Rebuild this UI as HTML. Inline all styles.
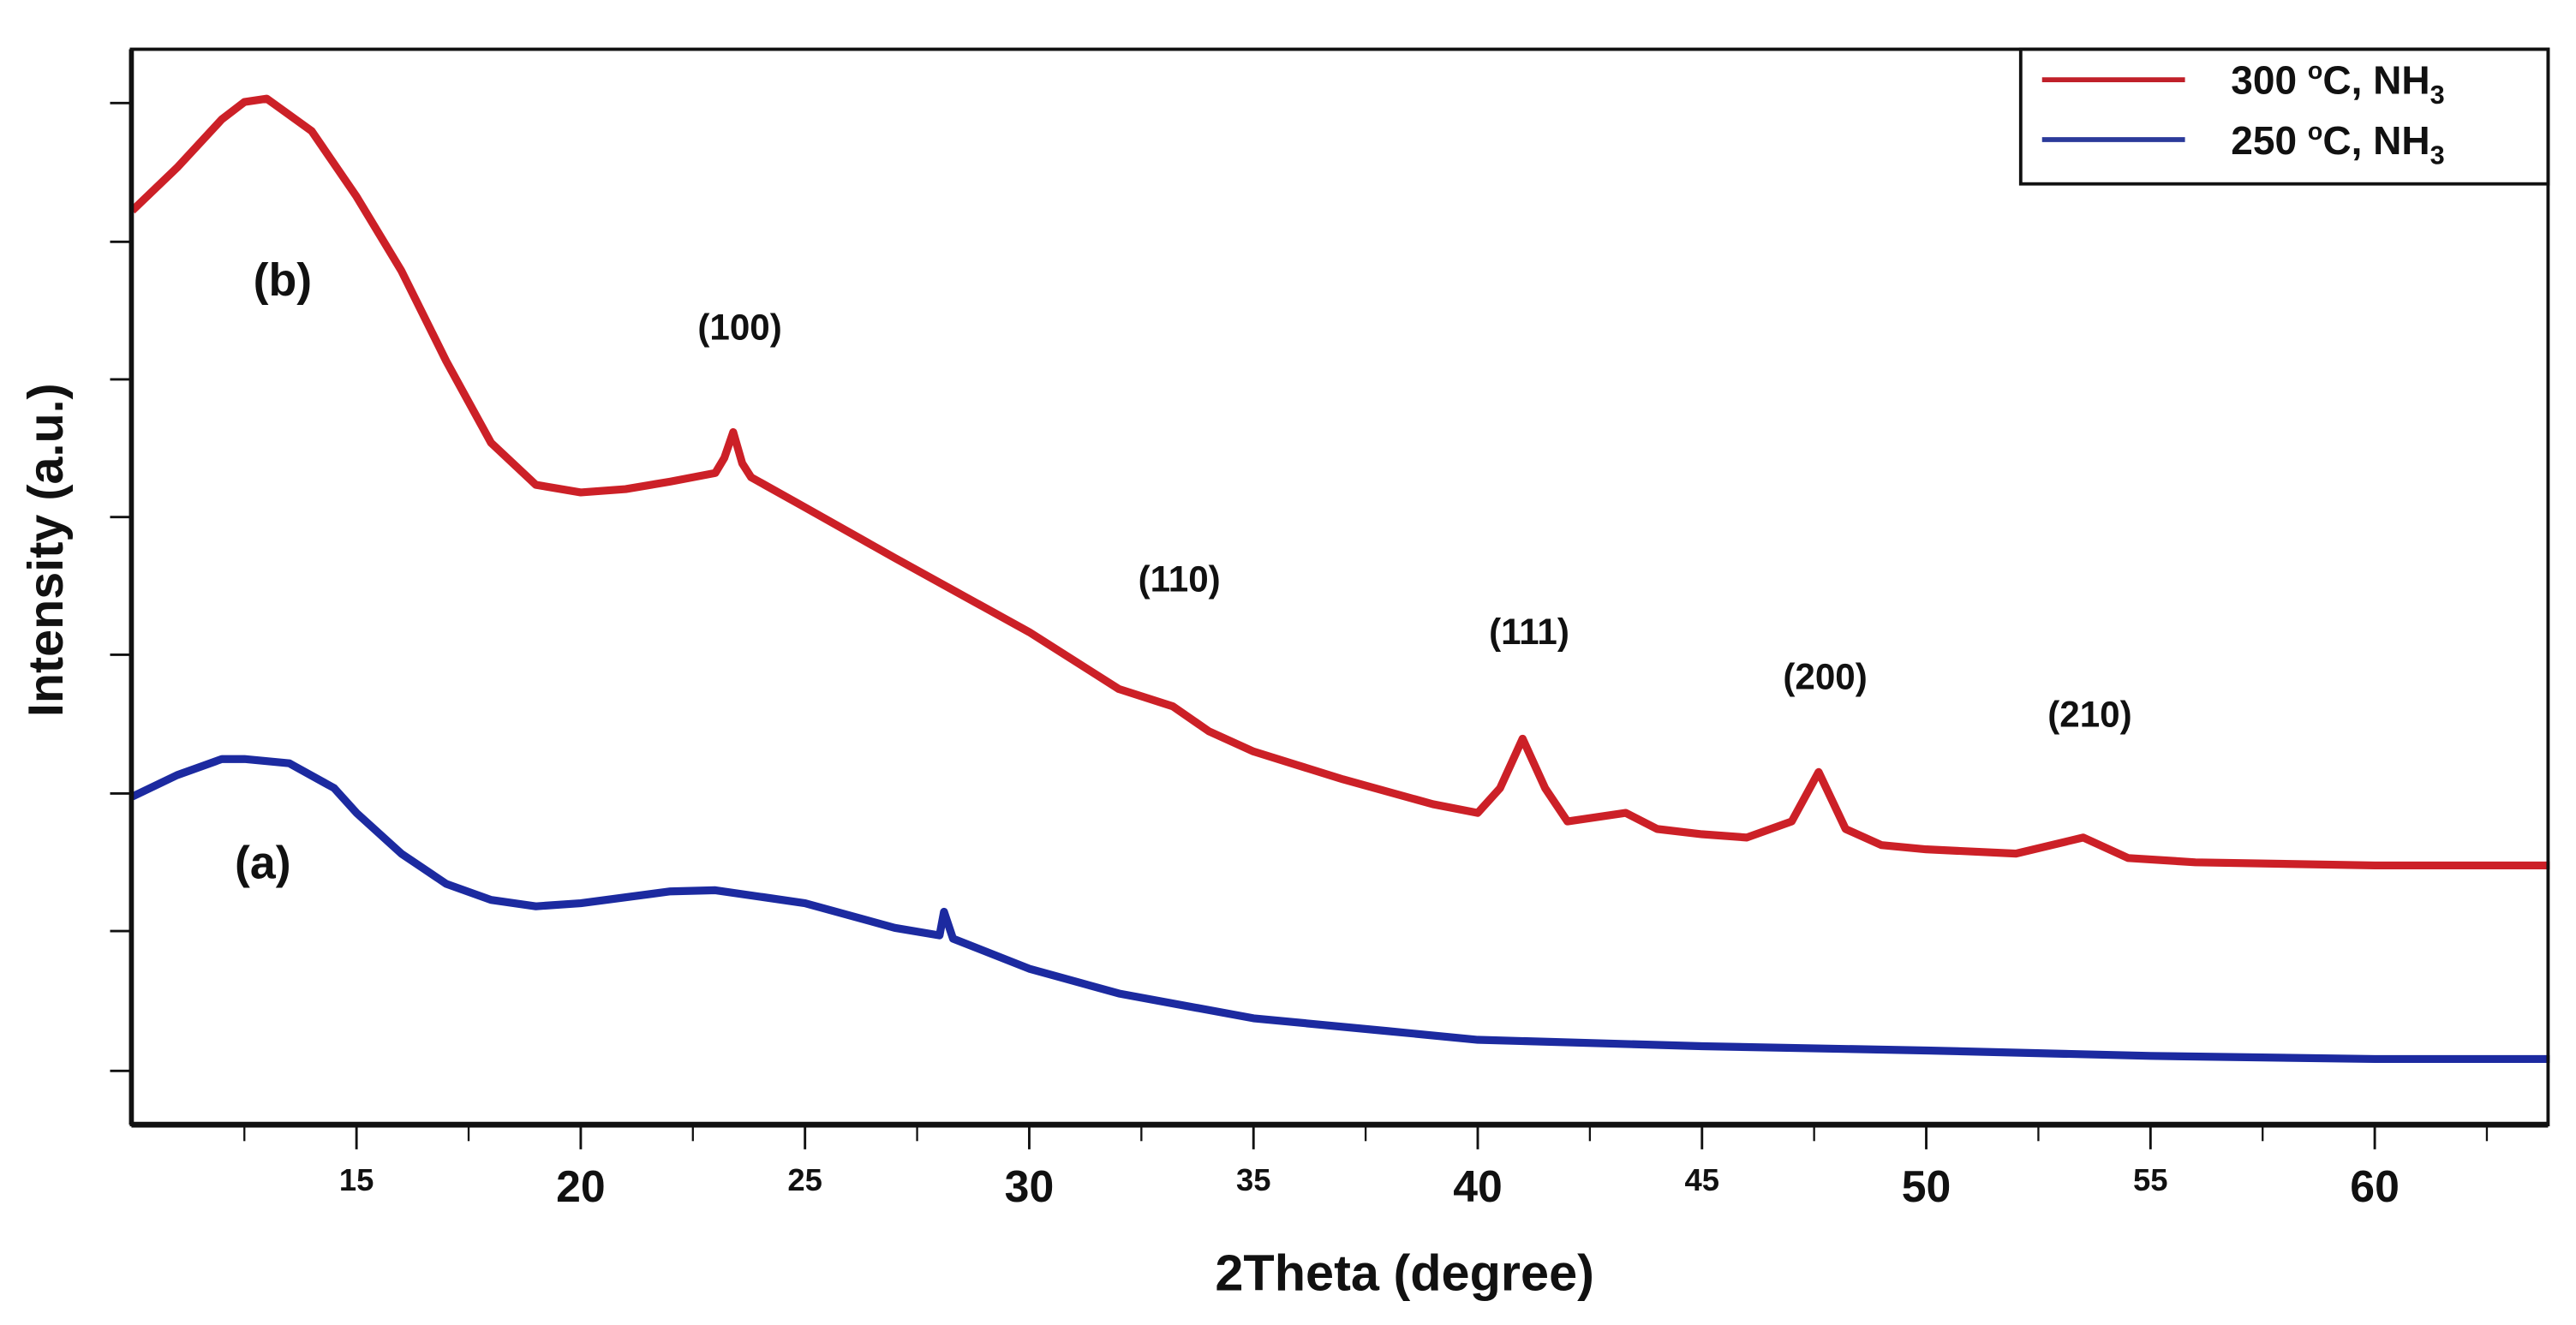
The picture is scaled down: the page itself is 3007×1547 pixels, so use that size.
<!DOCTYPE html>
<html><head><meta charset="utf-8"><style>
html,body{margin:0;padding:0;background:#fff;}
svg{display:block;}
text{font-family:"Liberation Sans",sans-serif;font-weight:bold;fill:#111;}
</style></head><body>
<svg id="chart" width="3007" height="1547" viewBox="0 0 1568 807" preserveAspectRatio="none" xmlns="http://www.w3.org/2000/svg">
<rect x="0" y="0" width="1568" height="807" fill="#fff"/>
<g id="marks"></g>
<rect x="80" y="30" width="1471" height="655" fill="none" stroke="#111" stroke-width="2"/>
<line x1="80" y1="685" x2="1551" y2="685" stroke="#111" stroke-width="3.5"/>
<line x1="80" y1="30" x2="80" y2="685" stroke="#111" stroke-width="3"/>
<g id="xticks"></g>
<g id="yticks"></g>
<text x="855" y="786" text-anchor="middle" font-size="31">2Theta (degree)</text>
<text transform="translate(38,335) rotate(-90)" text-anchor="middle" font-size="30">Intensity (a.u.)</text>
<text x="172" y="180" text-anchor="middle" font-size="28">(b)</text>
<text x="160" y="535" text-anchor="middle" font-size="28">(a)</text>
<g id="peaks"></g>
<g>
<rect x="1230" y="30" width="321" height="82" fill="#fff" stroke="#111" stroke-width="2"/>
<line x1="1243" y1="48.6" x2="1330" y2="48.6" stroke="#c0202a" stroke-width="3"/>
<line x1="1243" y1="85" x2="1330" y2="85" stroke="#2b3a9a" stroke-width="3"/>
<text x="1358" y="57" font-size="24">300 <tspan font-size="15" dy="-9">o</tspan><tspan dy="9">C, NH</tspan><tspan font-size="16" dy="6">3</tspan></text>
<text x="1358" y="94" font-size="24">250 <tspan font-size="15" dy="-9">o</tspan><tspan dy="9">C, NH</tspan><tspan font-size="16" dy="6">3</tspan></text>
</g>
</svg>
<script>
const redX=[10,11,12,12.5,13,14,15,16,17,18,19,20,21,22,23,23.2,23.4,23.6,23.8,25,27,30,32,33.2,34,35,37,39,40,40.5,41,41.5,42,43.3,44,45,46,47,47.6,48.2,49,50,52,53.5,54.5,56,60,63.9];
const redY=[85.0,89.0,93.5,95.1,95.4,92.4,86.3,79.4,71.0,63.4,59.5,58.8,59.1,59.8,60.6,62.0,64.4,61.5,60.2,57.4,52.7,45.8,40.5,38.9,36.6,34.7,32.1,29.8,29.0,31.3,35.9,31.3,28.2,29.0,27.5,27.0,26.7,28.2,32.8,27.5,26.0,25.6,25.2,26.7,24.8,24.4,24.1,24.1];
const blueX=[10,11,12,12.5,13.5,14.5,15,16,17,18,19,20,22,23,25,27,28,28.1,28.3,30,32,35,38,40,45,50,55,60,63.9];
const blueY=[30.5,32.5,34.0,34.0,33.6,31.3,29.0,25.2,22.4,20.9,20.3,20.6,21.7,21.8,20.6,18.3,17.6,19.8,17.3,14.5,12.2,9.9,8.7,7.9,7.3,6.9,6.4,6.1,6.1];
const xTicks=[15,20,25,30,35,40,45,50,55,60];
const xMinor=[12.5,17.5,22.5,27.5,32.5,37.5,42.5,47.5,52.5,57.5,62.5];
const yTicks=[95,82.1,69.3,56.5,43.7,30.8,18.0,5.0];
const peakLabels=["(100)","(110)","(111)","(200)","(210)"];
const peakPos=[23.4,33.2,41,47.6,53.5];
const peakLabelY=[73.0,49.6,44.7,40.5,37.0];

const NS="http://www.w3.org/2000/svg";
function xs(v){return 80.5+(v-10)*27.3;}
function ys(v){return 685-v*6.55;}
function mk(tag,attrs,parent){const e=document.createElementNS(NS,tag);for(const k in attrs)e.setAttribute(k,attrs[k]);parent.appendChild(e);return e;}
const marks=document.getElementById('marks');
function series(X,Y,color,name){
  let d="";for(let i=0;i<X.length;i++){d+=(i?"L":"M")+xs(X[i]).toFixed(1)+","+ys(Y[i]).toFixed(1);}
  const p=mk('path',{d:d,fill:'none',stroke:color,'stroke-width':4.8,'stroke-linejoin':'round'},marks);
  
  
}
series(redX,redY,'#cc2027','series-300c-nh3');
series(blueX,blueY,'#1c2aa0','series-250c-nh3');
const xt=document.getElementById('xticks');
xTicks.forEach((v,i)=>{
  const l=mk('line',{x1:xs(v),x2:xs(v),y1:685,y2:700,stroke:'#111','stroke-width':1.5},xt);
  
  
  const big=(v%10===0);
  const t=mk('text',{x:xs(v),y:big?732:725,'text-anchor':'middle','font-size':big?27:19},xt);
  t.textContent=String(v);
  
  
});
xMinor.forEach(v=>{
  const l=mk('line',{x1:xs(v),x2:xs(v),y1:685,y2:695,stroke:'#111','stroke-width':1.2},xt);
  
  
});
const yt=document.getElementById('yticks');
yTicks.forEach(v=>{
  const l=mk('line',{x1:67,x2:80,y1:ys(v),y2:ys(v),stroke:'#111','stroke-width':1.5},yt);
  
  
});
const pk=document.getElementById('peaks');
peakLabels.forEach((s,i)=>{
  const t=mk('text',{x:xs(peakPos[i])+4,y:ys(peakLabelY[i]),'text-anchor':'middle','font-size':22,'font-weight':600},pk);
  t.textContent=s;
  
  
});
</script>
</body></html>
